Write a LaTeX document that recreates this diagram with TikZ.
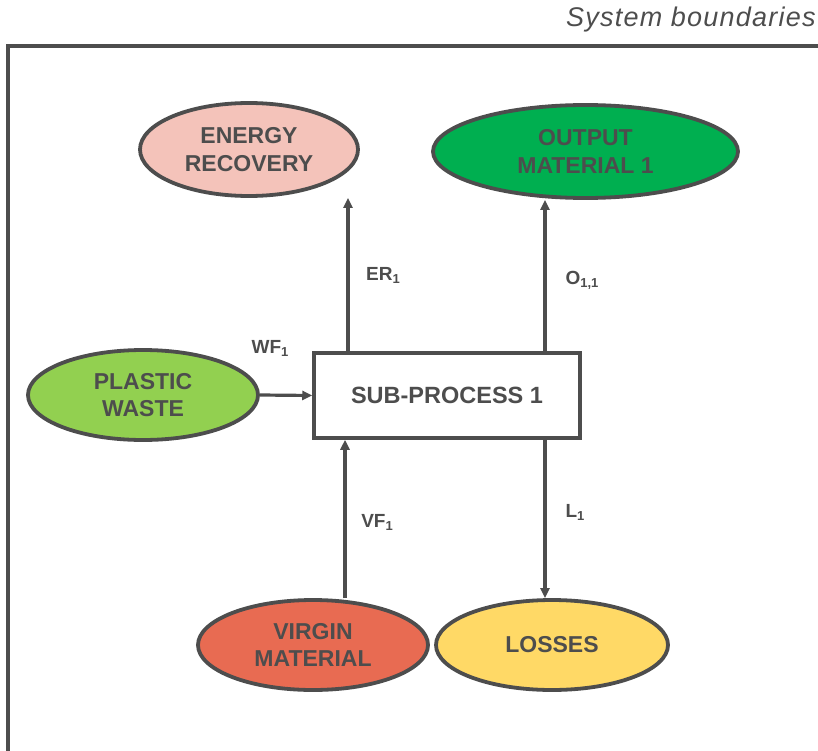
\documentclass[tikz,border=0pt]{standalone}
\usepackage{fontspec}
\setmainfont{Liberation Sans}
\usetikzlibrary{shapes.geometric,arrows.meta}
\definecolor{ink}{HTML}{4D4D4D}
\definecolor{pinkfill}{HTML}{F4C3BA}
\definecolor{greenfill}{HTML}{00AF50}
\definecolor{limefill}{HTML}{92D050}
\definecolor{redfill}{HTML}{E86B52}
\definecolor{yellowfill}{HTML}{FFD966}
\newcommand{\lowidx}[1]{\raisebox{-0.3ex}{\fontsize{13}{13}\selectfont #1}}
\tikzset{
  flowbox/.style={ellipse, draw=ink, line width=3.8pt, inner sep=0pt,
    text=ink, font=\bfseries\fontsize{23}{27.5}\selectfont, align=center},
  procbox/.style={rectangle, draw=ink, line width=3.5pt, fill=white,
    minimum width=266pt, minimum height=85pt, inner sep=0pt,
    text=ink, font=\bfseries\fontsize{23.5}{26}\selectfont},
  flow/.style={draw=ink, line width=3.2pt, -{Triangle[length=10pt,width=9pt]}},
  flowlabel/.style={text=ink, font=\bfseries\fontsize{19}{22}\selectfont, inner sep=0pt}
}
\begin{document}
\begin{tikzpicture}[x=1pt,y=-1pt]
\useasboundingbox (0,0) rectangle (818,751);
% system boundary (only top and left sides visible)
\draw[ink, line width=3.8pt] (8,760) -- (8,46) -- (830,46);
\node[anchor=west, text=ink, inner sep=0pt,
  font=\itshape\fontsize{27}{30}\selectfont\addfontfeatures{LetterSpace=4.5}] (sb) at (566,20) {System boundaries};
% process and flows
\node[procbox] (sp) at (447,395.5) {SUB-PROCESS 1};
\node[flowbox, fill=pinkfill, minimum width=218pt, minimum height=93pt] (er) at (249,149.5) {ENERGY\\RECOVERY};
\node[flowbox, fill=greenfill, minimum width=305pt, minimum height=93pt] (om) at (585.5,151.5) {OUTPUT\\MATERIAL 1};
\node[flowbox, fill=limefill, minimum width=230pt, minimum height=90pt] (pw) at (143,395) {PLASTIC\\WASTE};
\node[flowbox, fill=redfill, minimum width=230pt, minimum height=90pt] (vm) at (313,645) {VIRGIN\\MATERIAL};
\node[flowbox, fill=yellowfill, minimum width=232pt, minimum height=90pt] (ls) at (552,645) {LOSSES};
% connectors
\draw[flow] (sp.north -| 348,0) -- (er.south -| 348,0);
\draw[flow] (sp.north -| 545,0) -- (om.south -| 545,0);
\draw[flow] (pw.east) -- (sp.west);
\draw[flow] (vm.north -| 345,0) -- (sp.south -| 345,0);
\draw[flow] (sp.south -| 545,0) -- (ls.north -| 545,0);
% flow labels
\node[flowlabel] (ler) at (383,275) {ER\lowidx{1}};
\node[flowlabel] (lom) at (582,280) {O\lowidx{1,1}};
\node[flowlabel] (lwf) at (270,348) {WF\lowidx{1}};
\node[flowlabel] (lvf) at (377,522) {VF\lowidx{1}};
\node[flowlabel] (ll) at (575,512) {L\lowidx{1}};
\end{tikzpicture}
\end{document}
